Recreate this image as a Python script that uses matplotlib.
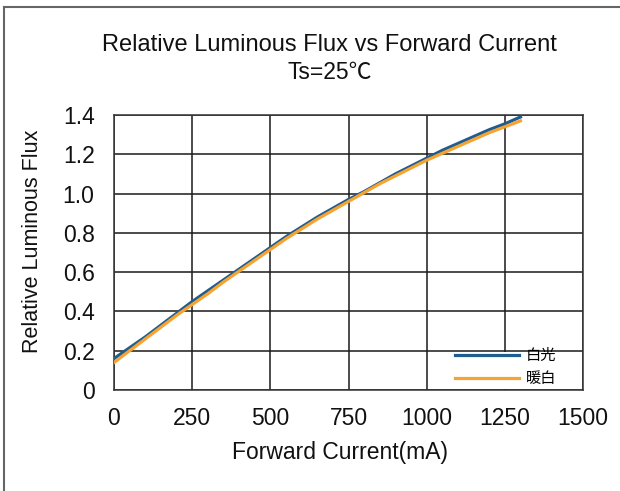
import matplotlib
matplotlib.use("Agg")
import matplotlib.pyplot as plt
from matplotlib.lines import Line2D
from matplotlib.patches import Rectangle

plt.rcParams['font.family'] = ['Liberation Sans', 'Noto Sans CJK SC', 'DejaVu Sans']

# forward current (mA)
current = [0, 50, 100, 150, 200, 250, 300, 350, 400, 450, 500, 550, 600, 650,
           700, 750, 800, 850, 900, 950, 1000, 1050, 1100, 1150, 1200, 1250, 1300]
# relative luminous flux, 白光 (white)
flux_white = [0.16, 0.215, 0.27, 0.33, 0.39, 0.45, 0.505, 0.56, 0.615, 0.67, 0.725, 0.78,
              0.83, 0.88, 0.925, 0.97, 1.01, 1.055, 1.10, 1.14, 1.18, 1.22, 1.255, 1.29,
              1.325, 1.355, 1.39]
# relative luminous flux, 暖白 (warm white)
flux_warm = [0.14, 0.20, 0.26, 0.32, 0.38, 0.435, 0.49, 0.55, 0.605, 0.66, 0.715, 0.77,
             0.82, 0.87, 0.915, 0.96, 1.005, 1.05, 1.09, 1.13, 1.17, 1.205, 1.24, 1.275,
             1.31, 1.34, 1.37]

xticks = [0, 250, 500, 750, 1000, 1250, 1500]
yticks = [0, 0.2, 0.4, 0.6, 0.8, 1.0, 1.2, 1.4]
ytick_labels = ['0', '0.2', '0.4', '0.6', '0.8', '1.0', '1.2', '1.4']

fig = plt.figure(figsize=(6.2, 4.91), dpi=100)
ax = fig.add_axes([114/620, 101/491, 469/620, 275/491])

ax.plot(current, flux_white, color='#1f5c8f', lw=2.3, label='白光', zorder=3)
ax.plot(current, flux_warm, color='#f5a331', lw=2.3, label='暖白', zorder=3)

ax.set_xlim(0, 1500)
ax.set_ylim(0, 1.4)
ax.set_xticks(xticks)
ax.set_yticks(yticks)
ax.set_yticklabels(ytick_labels)
ax.tick_params(length=0, labelsize=16.5, pad=14, colors='#111')
ax.tick_params(axis='x', pad=12)
ax.set_axisbelow(True)
ax.grid(True, color='#1a1a1a', lw=1.1)
for s in ax.spines.values():
    s.set_color('#333')
    s.set_linewidth(1.1)

ax.set_xlabel('Forward Current(mA)', fontsize=16.5, color='#111')
ax.xaxis.set_label_coords(0.482, -0.185)
ax.set_ylabel('Relative Luminous Flux', fontsize=15.5, color='#111')
ax.yaxis.set_label_coords(-0.152, 0.54)

# white box behind legend
ax.add_patch(Rectangle((0.674, 0.004), 0.322, 0.133, transform=ax.transAxes,
                       facecolor='white', edgecolor='none', zorder=2.5))
leg = ax.legend(loc='upper left', bbox_to_anchor=(0.727, 0.148), frameon=False,
                fontsize=11, handlelength=4.2, handletextpad=0.45,
                labelspacing=0.6, borderpad=0, borderaxespad=0)
leg.set_zorder(5)

fig.text(0.532, 0.908, 'Relative Luminous Flux vs Forward Current', ha='center',
         va='center', fontsize=17, color='#111')
fig.text(0.532, 0.853, 'Ts=25℃', ha='center', va='center', fontsize=16.5,
         color='#111')

# outer frame (left and top edges)
fig.add_artist(Line2D([3.5/620, 3.5/620], [0, 484/491], transform=fig.transFigure,
                      color='#666', lw=1.5))
fig.add_artist(Line2D([3.5/620, 1], [484/491, 484/491], transform=fig.transFigure,
                      color='#666', lw=1.5))

fig.savefig('out.png', dpi=100)
